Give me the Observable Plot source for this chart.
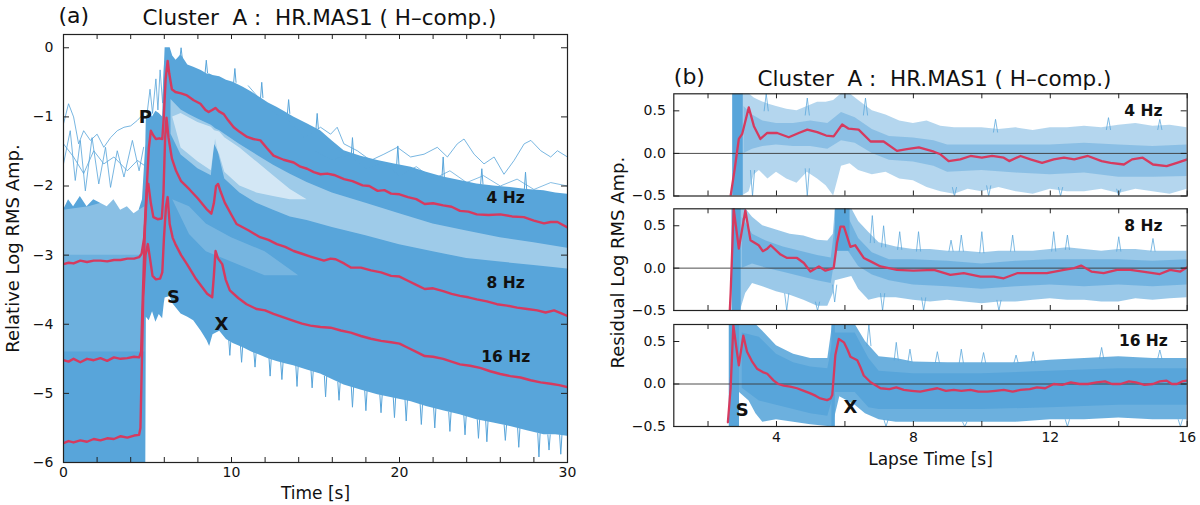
<!DOCTYPE html>
<html><head><meta charset="utf-8">
<script src="https://cdn.jsdelivr.net/npm/d3@7"></script>
<script src="https://cdn.jsdelivr.net/npm/@observablehq/plot@0.6"></script>
<style>
html,body{margin:0;padding:0;background:#fff;}
#fig{position:relative;width:1200px;height:505px;overflow:hidden;background:#fff;}
#fig svg{position:absolute;top:0;}
</style></head><body><div id="fig"></div>
<script>
const BLUE = "#58a5da", RED = "#d63a5f", INK = "#222";
const FONT = "DejaVu Sans, sans-serif";

// ================= Panel (a) data =================
const yTicksA = [-6,-5,-4,-3,-2,-1,0];
const xLabelsA = [0,10,20,30];
const xTicksA = [0,2,4,6,8,10,12,14,16,18,20,22,24,26,28,30];

const red4a = [[0,-3.13],[0.3,-3.11],[0.6,-3.12],[1.0,-3.08],[1.4,-3.10],[1.8,-3.08],[2.2,-3.08],[2.6,-3.09],[3.0,-3.07],[3.4,-3.07],[3.8,-3.05],[4.2,-3.05],[4.5,-3.03],[4.65,-2.98],[4.8,-2.75],[4.95,-2.05],[5.08,-1.45],[5.2,-1.2],[5.35,-1.27],[5.5,-1.32],[5.7,-1.31],[5.88,-1.32],[5.97,-1.0],[6.08,-0.45],[6.2,-0.19],[6.3,-0.38],[6.45,-0.6],[6.66,-0.64],[7.0,-0.66],[7.35,-0.69],[7.75,-0.76],[8.15,-0.81],[8.45,-0.9],[8.64,-0.93],[8.85,-0.9],[9.04,-0.87],[9.25,-0.92],[9.54,-0.96],[9.8,-1.05],[10.13,-1.15],[10.5,-1.22],[10.93,-1.29],[11.3,-1.32],[11.72,-1.34],[12.1,-1.45],[12.5,-1.56],[13.1,-1.62],[13.7,-1.66],[14.1,-1.72],[14.5,-1.75],[14.9,-1.80],[15.3,-1.83],[15.7,-1.82],[16.1,-1.84],[16.7,-1.90],[17.2,-1.93],[17.8,-1.99],[18.2,-2.0],[18.7,-2.07],[19.1,-2.06],[19.5,-2.11],[20.0,-2.12],[20.5,-2.16],[21.0,-2.19],[21.5,-2.26],[22.0,-2.25],[22.6,-2.28],[23.1,-2.30],[23.6,-2.36],[24.1,-2.37],[24.6,-2.41],[25.3,-2.42],[26.0,-2.41],[26.7,-2.44],[27.4,-2.45],[28.0,-2.50],[28.6,-2.54],[29.0,-2.52],[29.4,-2.52],[29.7,-2.56],[30,-2.60]];

const red8a = [[0,-4.52],[0.3,-4.54],[0.6,-4.50],[1.0,-4.55],[1.4,-4.50],[1.8,-4.52],[2.2,-4.49],[2.6,-4.53],[3.0,-4.48],[3.4,-4.50],[3.8,-4.49],[4.2,-4.47],[4.5,-4.48],[4.62,-4.40],[4.72,-3.6],[4.85,-2.6],[4.97,-2.05],[5.05,-1.97],[5.2,-2.25],[5.35,-2.45],[5.6,-2.48],[5.85,-2.47],[5.95,-2.1],[6.05,-1.3],[6.13,-1.01],[6.25,-1.3],[6.45,-1.6],[6.7,-1.78],[7.0,-1.93],[7.5,-2.05],[8.0,-2.18],[8.5,-2.33],[8.8,-2.4],[8.95,-2.25],[9.08,-2.0],[9.2,-1.97],[9.35,-2.08],[9.6,-2.24],[10.0,-2.42],[10.3,-2.55],[11.0,-2.64],[11.7,-2.74],[12.2,-2.78],[12.7,-2.84],[13.2,-2.88],[13.7,-2.94],[14.2,-2.98],[14.7,-3.02],[15.1,-3.05],[15.5,-3.08],[15.9,-3.05],[16.2,-3.06],[16.7,-3.12],[17.1,-3.18],[17.7,-3.18],[18.3,-3.22],[18.9,-3.25],[19.5,-3.30],[20.0,-3.31],[20.5,-3.37],[21.0,-3.43],[21.5,-3.49],[22.0,-3.48],[22.6,-3.52],[23.1,-3.56],[23.6,-3.59],[24.1,-3.61],[24.6,-3.64],[25.2,-3.67],[25.8,-3.71],[26.4,-3.73],[27.0,-3.76],[27.6,-3.78],[28.2,-3.80],[28.7,-3.83],[29.2,-3.80],[29.6,-3.84],[30,-3.88]];

const red16a = [[0,-5.72],[0.3,-5.69],[0.6,-5.71],[1.0,-5.68],[1.4,-5.70],[1.8,-5.66],[2.2,-5.68],[2.6,-5.65],[3.0,-5.66],[3.4,-5.62],[3.8,-5.64],[4.2,-5.61],[4.5,-5.60],[4.58,-5.5],[4.66,-4.6],[4.75,-3.6],[4.88,-3.0],[5.02,-2.84],[5.15,-3.05],[5.3,-3.3],[5.5,-3.35],[5.75,-3.34],[5.88,-3.25],[5.98,-2.75],[6.1,-2.3],[6.2,-2.16],[6.32,-2.55],[6.5,-2.75],[6.66,-2.84],[7.0,-3.0],[7.35,-3.13],[7.9,-3.35],[8.55,-3.56],[8.85,-3.61],[8.95,-3.3],[9.05,-2.94],[9.2,-3.05],[9.45,-3.13],[9.65,-3.35],[9.9,-3.51],[10.4,-3.62],[10.9,-3.71],[11.5,-3.78],[12.0,-3.80],[12.5,-3.85],[13.1,-3.90],[13.7,-3.95],[14.2,-3.99],[14.7,-4.02],[15.3,-4.04],[15.9,-4.05],[16.5,-4.09],[17.1,-4.12],[17.7,-4.17],[18.3,-4.21],[18.9,-4.24],[19.5,-4.26],[20.0,-4.28],[20.5,-4.34],[21.0,-4.40],[21.5,-4.46],[22.0,-4.47],[22.6,-4.50],[23.1,-4.54],[23.6,-4.58],[24.2,-4.60],[24.8,-4.63],[25.4,-4.68],[26.0,-4.72],[26.6,-4.75],[27.2,-4.77],[27.8,-4.81],[28.4,-4.84],[29.0,-4.86],[29.5,-4.88],[30,-4.91]];

// blue envelope of all traces: [time, lower, upper]
const blueMainA = [[0,-6,-2.35],[0.3,-6,-2.2],[0.6,-6,-2.3],[1.0,-6,-2.15],[1.4,-6,-2.3],[1.8,-6,-2.2],[2.2,-6,-2.25],[2.6,-6,-2.3],[3.0,-6,-2.2],[3.4,-6,-2.35],[3.8,-6,-2.3],[4.2,-6,-2.4],[4.5,-6,-2.35],[4.7,-6,-2.2],[4.9,-6,-1.4],[4.93,-3.9,-1.0],[5.1,-3.95,-0.95],[5.3,-3.82,-1.0],[5.5,-3.97,-0.92],[5.7,-3.86,-0.95],[5.9,-3.92,-1.0],[6.0,-3.7,-0.3],[6.05,-3.62,0.0],[6.35,-3.6,0.0],[6.5,-3.7,-0.12],[6.7,-3.76,-0.18],[7.0,-3.85,-0.1],[7.4,-3.9,-0.25],[7.75,-3.95,-0.28],[8.2,-4.1,-0.33],[8.55,-4.24,-0.38],[8.7,-4.32,-0.38],[8.9,-4.15,-0.4],[9.3,-4.1,-0.42],[9.7,-4.22,-0.47],[10.1,-4.28,-0.5],[10.7,-4.34,-0.57],[11.2,-4.4,-0.64],[11.7,-4.45,-0.72],[12.2,-4.5,-0.8],[12.7,-4.54,-0.86],[13.2,-4.57,-0.93],[13.7,-4.6,-1.0],[14.5,-4.66,-1.1],[15.3,-4.72,-1.2],[16.0,-4.8,-1.35],[16.7,-4.88,-1.49],[17.7,-4.95,-1.57],[18.7,-5.02,-1.63],[19.7,-5.07,-1.68],[20.7,-5.12,-1.73],[21.6,-5.19,-1.8],[22.6,-5.25,-1.87],[23.6,-5.31,-1.92],[24.6,-5.38,-1.97],[25.6,-5.43,-2.0],[26.6,-5.48,-2.02],[27.6,-5.54,-2.05],[28.6,-5.6,-2.07],[29.3,-5.6,-2.1],[30,-5.62,-2.12]];

// sparse zone between the 4 Hz and 8 Hz bundles: [time, lower, upper]
const gapA = [[6.4,-1.25,-0.75],[7.0,-1.55,-0.9],[7.5,-1.65,-0.97],[8.0,-1.75,-1.03],[8.8,-1.85,-1.12],[8.95,-1.5,-1.15],[9.05,-1.32,-1.17],[9.3,-1.6,-1.2],[9.6,-1.9,-1.25],[10.5,-2.1,-1.4],[11.5,-2.25,-1.55],[12.5,-2.35,-1.7],[13.5,-2.45,-1.83],[14.5,-2.5,-1.95],[16,-2.6,-2.1],[18,-2.72,-2.25],[20,-2.85,-2.4],[22,-2.95,-2.55],[24,-3.05,-2.65],[26,-3.1,-2.75],[28,-3.15,-2.82],[30,-3.2,-2.9]];
// almost empty core of that zone right after S
const gapCoreA = [[6.5,-1.0,-1.0],[7.0,-1.45,-0.95],[8.0,-1.65,-1.08],[8.8,-1.78,-1.15],[9.0,-1.4,-1.2],[9.3,-1.55,-1.22],[9.6,-1.8,-1.3],[10.5,-2.0,-1.45],[11.5,-2.1,-1.65],[12.5,-2.15,-1.85],[13.5,-2.2,-2.05],[14.5,-2.2,-2.2]];
// speckled zone inside the 8 Hz bundle
const speckA = [[6.5,-2.2,-2.2],[7.5,-2.7,-2.3],[8.5,-2.95,-2.55],[10,-3.1,-2.75],[12,-3.3,-2.95],[14,-3.3,-3.3]];

// lighter speckled parts of the pre-event noise: [time, lower, upper]
const preLightA = [[0,-3.0,-2.35],[1.5,-3.0,-2.3],[3.0,-3.0,-2.2],[4.5,-3.0,-2.35],[4.85,-3.0,-2.3]];
const preMidA = [[0,-4.4,-2.35],[1.5,-4.4,-2.3],[3.0,-4.4,-2.2],[4.5,-4.4,-2.35],[4.85,-4.4,-2.3]];

// spikes of single traces at the bundle edges: [time, base, tip]
const spikesA = [[9.9,-4.2,-4.45],[10.6,-4.3,-4.55],[11.4,-4.4,-4.62],[12.3,-4.48,-4.75],[13.0,-4.55,-4.8],[13.9,-4.6,-4.9],[14.8,-4.66,-4.92],[15.6,-4.75,-5.05],[16.4,-4.84,-5.1],[17.2,-4.9,-5.2],[18.0,-4.96,-5.25],[18.9,-5.02,-5.28],[19.7,-5.06,-5.35],[20.4,-5.1,-5.4],[21.3,-5.16,-5.45],[22.1,-5.2,-5.5],[23.0,-5.27,-5.55],[23.9,-5.32,-5.6],[24.7,-5.38,-5.65],[25.2,-5.4,-5.7],[26.3,-5.46,-5.68],[27.1,-5.5,-5.78],[28.3,-5.58,-5.92],[28.9,-5.6,-5.82],[29.6,-5.6,-5.88],
  [7.0,-0.15,0.0],[8.5,-0.36,-0.18],[10.2,-0.5,-0.3],[11.8,-0.72,-0.5],[13.4,-0.95,-0.75],[15.1,-1.17,-0.95],[17.2,-1.55,-1.3],[19.9,-1.7,-1.42],[22.6,-1.87,-1.58],[24.9,-1.97,-1.75],[27.5,-2.05,-1.8]];

// individual noisy 4 Hz traces standing out above the bundle
const noiseA1 = [[0,-1.10],[0.3,-0.81],[0.6,-1.0],[0.9,-1.39],[1.2,-1.2],[1.6,-1.34],[2.0,-1.25],[2.4,-1.44],[2.8,-1.30],[3.2,-1.2],[3.6,-1.15],[4.0,-1.13],[4.4,-1.05],[4.67,-0.98],[4.9,-1.0]];
const noiseA2 = [[0,-1.68],[0.4,-1.2],[0.7,-1.92],[1.0,-1.34],[1.3,-2.07],[1.7,-1.3],[2.1,-1.97],[2.5,-1.44],[2.8,-2.02],[3.2,-1.49],[3.6,-1.87],[4.1,-1.34],[4.5,-1.78],[4.77,-1.44]];
const noiseA3 = [[0,-1.39],[0.6,-1.58],[1.2,-1.82],[1.8,-1.49],[2.4,-1.68],[3.0,-1.58],[3.8,-1.78],[4.4,-1.63],[4.8,-1.7]];
const noiseA4 = [[4.95,-1.0],[5.15,-0.6],[5.3,-0.95],[5.5,-0.45],[5.62,-0.9],[5.75,-0.32],[5.9,-0.8],[6.02,-0.2]];
const noiseA5 = [[11.0,-0.55],[11.6,-0.72],[12.2,-0.88],[12.8,-0.98],[13.4,-1.05],[13.9,-1.18],[14.3,-1.3],[14.7,-1.25],[15.3,-1.15],[15.9,-1.25],[16.29,-1.15],[16.69,-1.39],[17.49,-1.49],[18.28,-1.63],[19.07,-1.54],[19.87,-1.44],[20.66,-1.58],[21.46,-1.54],[22.25,-1.44],[22.85,-1.58],[23.44,-1.39],[23.84,-1.32],[24.44,-1.54],[25.03,-1.68],[25.63,-1.58],[26.22,-1.83],[26.82,-1.63],[27.42,-1.39],[27.82,-1.34],[28.41,-1.49],[29.0,-1.58],[29.4,-1.49],[30,-1.58]];
const noiseA6 = [[15,-1.5],[16,-1.62],[17,-1.55],[18,-1.75],[19,-1.66],[20,-1.85],[21,-1.72],[22,-1.9],[23,-1.78],[24,-1.95],[25,-1.85],[26,-2.0],[27,-1.9],[28,-2.05],[29,-1.95],[30,-2.0]];

const labelsA = [
  {t:4.87, v:-1.0, s:"P", size:18},
  {t:6.55, v:-3.61, s:"S", size:18},
  {t:9.4, v:-4.0, s:"X", size:18},
  {t:26.32, v:-2.17, s:"4 Hz", size:15.5},
  {t:26.32, v:-3.4, s:"8 Hz", size:15.5},
  {t:26.32, v:-4.48, s:"16 Hz", size:15.5}
];

// ================= Panel (b) data =================
const yTicksB = [-0.5, 0, 0.5];
const xTicksB = [2,4,6,8,10,12,14,16];
const xLabelsB = [4,8,12,16];

const red4b = [[2.55,-0.8],[2.66,-0.5],[2.78,-0.18],[2.9,0.17],[3.0,0.23],[3.19,0.54],[3.34,0.32],[3.53,0.17],[3.73,0.24],[4.02,0.24],[4.36,0.19],[4.65,0.24],[4.9,0.28],[5.19,0.25],[5.45,0.21],[5.67,0.2],[5.92,0.34],[6.11,0.29],[6.4,0.28],[6.75,0.14],[7.13,0.14],[7.52,0.03],[7.81,0.05],[8.16,0.07],[8.6,0.02],[8.79,-0.01],[9.03,-0.09],[9.37,-0.07],[9.67,-0.03],[10.0,-0.05],[10.3,-0.03],[10.64,-0.05],[10.8,-0.09],[11.13,-0.03],[11.42,-0.07],[11.76,-0.11],[12.1,-0.07],[12.4,-0.05],[12.7,-0.07],[13.1,-0.03],[13.5,-0.09],[13.76,-0.11],[14.15,-0.13],[14.39,-0.07],[14.7,-0.05],[15.0,-0.13],[15.4,-0.15],[15.7,-0.11],[16,-0.07]];

const red8b = [[2.6,-0.8],[2.66,-0.3],[2.75,0.70],[2.9,0.23],[3.09,0.68],[3.24,0.33],[3.48,0.27],[3.6,0.2],[3.73,0.23],[3.83,0.27],[4.12,0.16],[4.31,0.12],[4.6,0.12],[4.8,0.06],[4.99,-0.04],[5.24,0.02],[5.43,-0.03],[5.67,0.0],[5.77,0.3],[5.87,0.49],[5.97,0.49],[6.16,0.25],[6.3,0.27],[6.55,0.12],[6.75,0.08],[7.04,0.02],[7.52,-0.02],[8.0,-0.03],[8.6,-0.02],[9.08,-0.08],[9.47,-0.06],[9.96,-0.10],[10.35,-0.10],[10.64,-0.12],[11.03,-0.06],[11.52,-0.06],[11.9,-0.06],[12.4,-0.02],[12.7,0.0],[12.9,0.03],[13.2,-0.04],[13.56,-0.06],[13.95,-0.02],[14.34,-0.02],[14.7,-0.04],[15.2,-0.07],[15.5,-0.02],[15.8,-0.04],[16,0.01]];

const red16b = [[2.58,-0.45],[2.66,-0.05],[2.74,0.69],[2.82,0.45],[2.9,0.22],[3.03,0.57],[3.14,0.38],[3.28,0.27],[3.43,0.18],[3.6,0.14],[3.73,0.12],[3.92,0.04],[4.05,0.0],[4.21,-0.02],[4.4,-0.03],[4.6,-0.05],[4.8,-0.08],[4.99,-0.11],[5.15,-0.14],[5.28,-0.17],[5.48,-0.19],[5.58,-0.17],[5.63,-0.13],[5.72,0.34],[5.82,0.53],[5.97,0.49],[6.08,0.4],[6.16,0.32],[6.36,0.28],[6.45,0.2],[6.55,0.10],[6.75,0.02],[7.04,-0.05],[7.3,-0.06],[7.5,-0.04],[7.72,-0.07],[7.95,-0.08],[8.2,-0.09],[8.45,-0.07],[8.7,-0.05],[8.95,-0.08],[9.18,-0.07],[9.4,-0.08],[9.67,-0.07],[9.9,-0.09],[10.16,-0.09],[10.4,-0.08],[10.64,-0.07],[10.9,-0.09],[11.13,-0.07],[11.4,-0.06],[11.61,-0.04],[11.85,-0.05],[12.1,0.0],[12.35,-0.01],[12.6,0.02],[12.85,0.0],[13.1,0.0],[13.35,0.02],[13.6,0.03],[13.8,0.0],[14.05,0.0],[14.3,0.03],[14.5,0.02],[14.75,-0.01],[15.0,0.0],[15.2,0.03],[15.4,0.04],[15.55,0.0],[15.7,0.0],[15.85,0.03],[16,0.04]];

// residual envelopes: [time, lower, upper]
const outer4b = [[3.0,-0.5,0.7],[3.2,-0.45,0.7],[3.35,-0.25,0.65],[3.5,-0.2,0.62],[3.75,-0.3,0.58],[4.0,-0.22,0.55],[4.3,-0.3,0.52],[4.6,-0.35,0.5],[4.9,-0.22,0.55],[5.2,-0.3,0.6],[5.45,-0.38,0.6],[5.67,-0.5,0.62],[5.9,-0.15,0.7],[6.15,-0.12,0.7],[6.4,-0.2,0.62],[6.8,-0.25,0.5],[7.2,-0.22,0.45],[7.6,-0.3,0.38],[8.0,-0.32,0.35],[8.4,-0.4,0.38],[8.8,-0.45,0.32],[9.2,-0.48,0.3],[9.6,-0.42,0.3],[10.0,-0.45,0.3],[10.5,-0.4,0.28],[11.0,-0.45,0.3],[11.5,-0.48,0.27],[12.0,-0.42,0.3],[12.5,-0.45,0.3],[13.0,-0.45,0.32],[13.5,-0.42,0.3],[14.0,-0.47,0.33],[14.5,-0.42,0.35],[15.0,-0.45,0.32],[15.5,-0.48,0.33],[16.0,-0.42,0.3]];
const core4b = [[3.05,0.0,0.55],[3.3,0.05,0.45],[3.6,0.08,0.38],[4.0,0.1,0.35],[4.5,0.08,0.35],[5.0,0.08,0.38],[5.5,0.05,0.35],[5.9,0.15,0.48],[6.3,0.12,0.42],[6.8,0.0,0.28],[7.3,-0.08,0.2],[8.0,-0.1,0.18],[8.6,-0.15,0.15],[9.0,-0.22,0.1],[10.0,-0.2,0.1],[11.0,-0.23,0.1],[12.0,-0.25,0.1],[13.0,-0.23,0.12],[14.0,-0.28,0.1],[15.0,-0.28,0.08],[16.0,-0.27,0.1]];
const cols4b = [[2.72,3.03,-0.5,0.7]];
const spikes4b = [[3.7,0.5,0.7],[4.9,0.45,0.65],[6.6,0.45,0.65],[10.4,0.25,0.4],[13.7,0.28,0.42],[15.2,0.28,0.4],[4.9,-0.18,-0.5],[9.2,-0.4,-0.5],[10.2,-0.38,-0.5],[14.0,-0.42,-0.5],[3.3,-0.2,-0.5],[12.3,-0.4,-0.5]];

const outer8b = [[2.95,-0.5,0.7],[3.1,-0.3,0.7],[3.3,-0.18,0.6],[3.6,-0.22,0.5],[4.0,-0.28,0.45],[4.4,-0.32,0.4],[4.8,-0.38,0.38],[5.2,-0.45,0.33],[5.5,-0.45,0.32],[5.66,-0.3,0.4],[5.72,-0.15,0.7],[6.2,-0.1,0.7],[6.4,-0.25,0.55],[6.7,-0.38,0.42],[7.0,-0.35,0.3],[7.5,-0.35,0.25],[8.0,-0.38,0.22],[8.5,-0.4,0.22],[9.0,-0.38,0.2],[9.5,-0.4,0.2],[10,-0.42,0.18],[10.5,-0.4,0.2],[11,-0.4,0.2],[11.5,-0.38,0.2],[12,-0.36,0.22],[12.5,-0.38,0.24],[13,-0.38,0.22],[13.5,-0.4,0.2],[14,-0.4,0.22],[14.5,-0.36,0.22],[15,-0.38,0.2],[15.5,-0.36,0.2],[16,-0.35,0.2]];
const core8b = [[3.0,0.0,0.6],[3.3,0.05,0.4],[3.7,0.0,0.32],[4.2,-0.05,0.25],[4.7,-0.1,0.2],[5.2,-0.15,0.15],[5.6,-0.18,0.12],[5.75,0.2,0.62],[6.1,0.2,0.6],[6.4,0.02,0.35],[6.8,-0.08,0.18],[7.3,-0.15,0.1],[8.0,-0.2,0.1],[9,-0.22,0.08],[10,-0.25,0.05],[11,-0.22,0.08],[12,-0.2,0.1],[13,-0.22,0.1],[14,-0.2,0.1],[15,-0.22,0.08],[16,-0.2,0.1]];
const cols8b = [[2.7,2.97,-0.5,0.7],[5.72,6.15,0.2,0.7]];
const spikes8b = [[6.8,0.3,0.62],[7.13,0.25,0.5],[7.6,0.22,0.43],[8.15,0.2,0.43],[9.1,0.2,0.33],[9.4,0.2,0.39],[10.0,0.18,0.43],[10.9,0.2,0.39],[12.1,0.2,0.43],[12.5,0.22,0.39],[14.0,0.2,0.37],[15.0,0.2,0.35],[7.1,-0.3,-0.5],[8.3,-0.35,-0.5],[10.5,-0.38,-0.5],[4.3,-0.3,-0.5],[5.2,-0.4,-0.5],[5.7,-0.2,-0.4]];

const outer16b = [[2.92,-0.1,0.7],[3.2,-0.2,0.7],[3.4,-0.35,0.7],[3.6,-0.45,0.62],[4.0,-0.42,0.45],[4.5,-0.45,0.35],[5.0,-0.48,0.3],[5.5,-0.5,0.3],[5.64,-0.5,0.7],[5.85,-0.15,0.7],[6.3,-0.25,0.7],[6.6,-0.35,0.5],[7.0,-0.42,0.32],[7.5,-0.45,0.3],[8,-0.45,0.26],[9,-0.45,0.25],[10,-0.45,0.25],[11,-0.45,0.25],[12,-0.42,0.28],[13,-0.42,0.3],[14,-0.4,0.32],[15,-0.42,0.3],[16,-0.42,0.3]];
const core16b = [[3.0,-0.05,0.6],[3.5,-0.2,0.55],[4.0,-0.25,0.35],[4.5,-0.3,0.25],[5.0,-0.35,0.2],[5.5,-0.38,0.18],[5.7,-0.1,0.6],[6.3,-0.1,0.6],[6.7,-0.28,0.3],[7.0,-0.3,0.15],[8,-0.3,0.12],[10,-0.3,0.12],[12,-0.28,0.15],[14,-0.25,0.18],[16,-0.25,0.18]];
const cols16b = [[2.62,2.92,-0.5,0.7],[5.62,5.72,-0.5,0.7]];
const spikes16b = [[6.7,0.45,0.7],[7.5,0.28,0.49],[7.9,0.26,0.41],[8.7,0.25,0.38],[9.4,0.25,0.41],[10.05,0.25,0.37],[11.0,0.25,0.34],[11.5,0.25,0.38],[13.5,0.3,0.43],[15.2,0.3,0.4],[7.2,-0.42,-0.5],[9.5,-0.45,-0.5],[12.5,-0.42,-0.5],[15.8,-0.42,-0.5]];

const labelsB3 = [{t:3.0, v:-0.31, s:"S"}, {t:6.16, v:-0.27, s:"X"}];

// ================= drawing =================
const STYLE = {background:"transparent", overflow:"visible", fontFamily:FONT, color:"#111"};
const minus = d => d < 0 ? "\u2212" + String(-d) : String(d);
const fmtB = d => (d < 0 ? "\u2212" : "") + Math.abs(d).toFixed(1);
const T = d => d[0];
// each spike drawn as a narrow peak: base - tip - base
const tri = (arr, hw) => arr.flatMap((d, i) => [{x:d[0]-hw, y:d[1], k:i}, {x:d[0], y:d[2], k:i}, {x:d[0]+hw, y:d[1], k:i}]);

const A = {ml:63, mr:33, mt:34, mb:43};
const fwA = 600 - A.ml - A.mr, fhA = 505 - A.mt - A.mb;

const lineA = (data, w=0.9, op=0.9) => Plot.line(data, {x:T, y:d=>d[1], stroke:BLUE, strokeWidth:w, strokeOpacity:op, clip:true});
const band = (data, fill, op) => Plot.areaY(data, {x:T, y1:d=>d[1], y2:d=>d[2], fill, fillOpacity:op, clip:true});

const plotA = Plot.plot({
  width:600, height:505, marginLeft:A.ml, marginRight:A.mr, marginTop:A.mt, marginBottom:A.mb,
  x:{domain:[0,30]}, y:{domain:[-6,0.192]},
  style: STYLE,
  marks: [
    band(blueMainA, BLUE, 1),
    band(preLightA, "#fff", 0.2),
    band(preMidA, "#fff", 0.12),
    band(gapA, "#fff", 0.42),
    band(gapCoreA, "#fff", 0.55),
    band(speckA, "#fff", 0.18),
    Plot.line(tri(spikesA, 0.07), {x:"x", y:"y", z:"k", stroke:BLUE, strokeWidth:1, clip:true}),
    lineA(noiseA1), lineA(noiseA2), lineA(noiseA3), lineA(noiseA4), lineA(noiseA5), lineA(noiseA6, 0.9, 0.8),
    Plot.line(red4a, {x:T, y:d=>d[1], stroke:RED, strokeWidth:2.4, clip:true}),
    Plot.line(red8a, {x:T, y:d=>d[1], stroke:RED, strokeWidth:2.4, clip:true}),
    Plot.line(red16a, {x:T, y:d=>d[1], stroke:RED, strokeWidth:2.4, clip:true}),
    Plot.frame({stroke:INK, strokeWidth:1.2}),
    Plot.tickY(yTicksA, {y:d=>d, stroke:INK, insetRight:fwA-6}),
    Plot.tickY(yTicksA, {y:d=>d, stroke:INK, insetLeft:fwA-6}),
    Plot.tickX(xTicksA, {x:d=>d, stroke:INK, insetTop:fhA-5}),
    Plot.tickX(xTicksA, {x:d=>d, stroke:INK, insetBottom:fhA-5}),
    Plot.axisY(yTicksA, {tickSize:0, tickPadding:10, fontSize:14, tickFormat:minus, label:null}),
    Plot.axisX(xLabelsA, {tickSize:0, tickPadding:5, fontSize:14, tickFormat:d=>String(d), label:null}),
    Plot.text(labelsA, {x:"t", y:"v", text:"s", fontSize:"size", fontWeight:"bold", fill:"#111"}),
    Plot.text(["Time [s]"], {text:d=>d, frameAnchor:"bottom", lineAnchor:"bottom", dy:36, fontSize:17, fill:"#111"}),
    Plot.text(["Relative Log RMS Amp."], {text:d=>d, frameAnchor:"left", textAnchor:"middle", rotate:-90, dx:-50, fontSize:18, fill:"#111"}),
    Plot.text(["(a)"], {text:d=>d, frameAnchor:"top-left", textAnchor:"start", lineAnchor:"bottom", dx:-5, dy:-12, fontSize:22, fill:"#111"}),
    Plot.text(["Cluster\u00a0\u00a0A :\u00a0\u00a0HR.MAS1 ( H\u2013comp.)"], {text:d=>d, frameAnchor:"top", lineAnchor:"bottom", dx:4, dy:-10, fontSize:21.5, fill:"#111"})
  ]
});
plotA.style.left = "0px";
document.getElementById("fig").appendChild(plotA);

const BL = 73.3, BR = 13.3;
const fwB = 600 - BL - BR;
function subPlot(o) {
  const fh = 505 - o.mt - o.mb;
  const marks = [
    band(o.outer, BLUE, o.outerOp),
    band(o.core, BLUE, o.coreOp),
    Plot.rect(o.cols, {x1:d=>d[0], x2:d=>d[1], y1:d=>d[2], y2:d=>d[3], fill:BLUE, clip:true}),
    Plot.line(tri(o.spikes, 0.06), {x:"x", y:"y", z:"k", stroke:BLUE, strokeWidth:0.9, strokeOpacity:0.85, clip:true}),
    Plot.ruleY([0], {stroke:"#3a3a3a", strokeWidth:0.9}),
    Plot.line(o.red, {x:T, y:d=>d[1], stroke:RED, strokeWidth:2.3, clip:true}),
    Plot.frame({stroke:INK, strokeWidth:1.2}),
    Plot.tickY(yTicksB, {y:d=>d, stroke:INK, insetRight:fwB-6}),
    Plot.tickY(yTicksB, {y:d=>d, stroke:INK, insetLeft:fwB-6}),
    Plot.tickX(xTicksB, {x:d=>d, stroke:INK, insetTop:fh-5}),
    Plot.tickX(xTicksB, {x:d=>d, stroke:INK, insetBottom:fh-5}),
    Plot.axisY(yTicksB, {tickSize:0, tickPadding:8, fontSize:14, tickFormat:fmtB, label:null}),
    Plot.text([o.lab], {text:d=>d, x:()=>14.72, y:()=>0.5, fontWeight:"bold", fontSize:15.5, fill:"#111"}),
    ...(o.extra || [])
  ];
  const p = Plot.plot({
    width:600, height:505, marginLeft:BL, marginRight:BR, marginTop:o.mt, marginBottom:o.mb,
    x: o.showX ? {domain:[1,16]} : {domain:[1,16], axis:null},
    y: {domain:[-0.5,0.7]},
    style: STYLE,
    marks
  });
  p.style.left = "600px";
  document.getElementById("fig").appendChild(p);
}

subPlot({mt:93.3, mb:309.5, outer:outer4b, core:core4b, cols:cols4b, spikes:spikes4b, red:red4b, outerOp:0.45, coreOp:0.45, lab:"4 Hz",
  extra:[
    Plot.text(["(b)"], {text:d=>d, frameAnchor:"top-left", textAnchor:"start", lineAnchor:"bottom", dx:0, dy:-10, fontSize:22, fill:"#111"}),
    Plot.text(["Cluster\u00a0\u00a0A :\u00a0\u00a0HR.MAS1 ( H\u2013comp.)"], {text:d=>d, frameAnchor:"top", lineAnchor:"bottom", dx:4, dy:-8, fontSize:21.5, fill:"#111"})
  ]});
subPlot({mt:208.3, mb:195, outer:outer8b, core:core8b, cols:cols8b, spikes:spikes8b, red:red8b, outerOp:0.6, coreOp:0.6, lab:"8 Hz",
  extra:[
    Plot.text(["Residual Log RMS Amp."], {text:d=>d, frameAnchor:"left", textAnchor:"middle", rotate:-90, dx:-56, dy:3, fontSize:18, fill:"#111"})
  ]});
subPlot({mt:324, mb:79, outer:outer16b, core:core16b, cols:cols16b, spikes:spikes16b, red:red16b, outerOp:0.88, coreOp:1, lab:"16 Hz", showX:true,
  extra:[
    Plot.axisX(xLabelsB, {tickSize:0, tickPadding:6, fontSize:14, tickFormat:d=>String(d), label:null}),
    Plot.text(labelsB3, {x:"t", y:"v", text:"s", fontWeight:"bold", fontSize:18, fill:"#111"}),
    Plot.text(["Lapse Time [s]"], {text:d=>d, frameAnchor:"bottom", lineAnchor:"bottom", dy:38, fontSize:17, fill:"#111"})
  ]});
</script></body></html>
